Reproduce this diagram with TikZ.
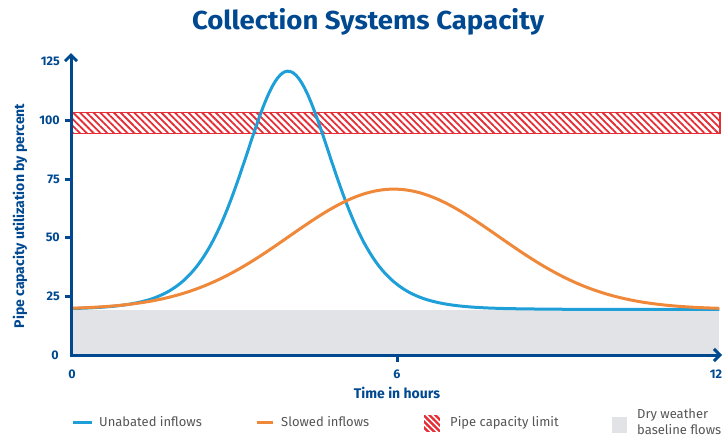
\documentclass[tikz,border=0pt]{standalone}
\usepackage{fontspec}
\setmainfont{Fira Sans}
\usetikzlibrary{arrows.meta,patterns.meta}
\definecolor{dblue}{RGB}{0,73,144}
\definecolor{lblue}{RGB}{30,159,216}
\definecolor{oranj}{RGB}{240,136,58}
\definecolor{capred}{RGB}{229,45,54}
\definecolor{basegray}{RGB}{225,227,230}
\definecolor{legcol}{RGB}{85,85,85}
\begin{document}
\begin{tikzpicture}[x=1pt,y=-1pt,
  declare function={sechsq(\u)=4*exp(-2*abs(\u))/(1+exp(-2*abs(\u)))^2;},
  axisline/.style={dblue,line width=3pt},
  tickl/.style={font=\fontsize{12.5}{12.5}\selectfont\bfseries,text=dblue,inner sep=0pt},
  legtext/.style={font=\fontsize{13}{16.5}\selectfont,text=legcol,inner sep=0pt},
  curve/.style={line width=3pt},
  hatch/.style={pattern={Lines[angle=-45,distance=4.8pt,line width=1.8pt]},pattern color=capred}
]
\useasboundingbox (0,0) rectangle (725,440);

% title
\node[font=\fontsize{26}{26}\selectfont\bfseries,text=dblue,xscale=1.06] (title) at (368,22) {Collection Systems Capacity};

% dry weather baseline
\fill[basegray] (71,309.5) rectangle (719,355);

% pipe capacity band
\draw[capred,line width=1.5pt,hatch] (71,112.5) rectangle (720,133.5);

% curves
\begin{scope}[shift={(71pt,-355pt)},x=54.25pt,y=2.346pt]
  \draw[lblue,curve] plot[domain=0:11.95,samples=220] (\x,{19.5+101.5*sechsq((\x-4)/1.12)});
  \draw[oranj,curve] plot[domain=0:11.95,samples=200] (\x,{19.5+51.2*exp(-((\x-5.95)^2)/(2*1.93*1.93))});
\end{scope}

% axes
\coordinate (O) at (71,355);
\coordinate (ytip) at (71,53);
\coordinate (xtip) at (722,355);
\draw[axisline,line join=miter,{Straight Barb[length=6pt,width=12pt]}-{Straight Barb[length=6pt,width=12pt]}] (ytip) -- (O) -- (xtip);

% ticks
\foreach \yy in {296.35,237.7,179.05,120.4} {
  \draw[axisline] (64.5,\yy) -- (71,\yy);
}
\draw[axisline] (397,355) -- (397,362);

% y tick labels
\node[tickl,anchor=east] (y125) at (60,61.75) {125};
\node[tickl,anchor=east] (y100) at (60,120.4) {100};
\node[tickl,anchor=east] (y75) at (60,179.05) {75};
\node[tickl,anchor=east] (y50) at (60,237.7) {50};
\node[tickl,anchor=east] (y25) at (60,296.35) {25};
\node[tickl,anchor=east] (y0) at (59,355) {0};

% x tick labels
\node[tickl] (x0) at (72,374) {0};
\node[tickl] (x6) at (397,374) {6};
\node[tickl] (x12) at (716,374) {12};

% axis titles
\node[font=\fontsize{14}{14}\selectfont\bfseries,text=dblue] (xlab) at (397,393) {Time in hours};
\node[font=\fontsize{14}{14}\selectfont\bfseries,text=dblue,rotate=90] (ylab) at (20,216) {Pipe capacity utilization by percent};

% legend
\coordinate (l1a) at (73,422); \coordinate (l1b) at (92,422);
\draw[lblue,line width=3pt] (l1a) -- (l1b);
\node[legtext,anchor=base west] (leg1) at (99,426.5) {Unabated inflows};
\coordinate (l2a) at (257,422); \coordinate (l2b) at (273,422);
\draw[oranj,line width=3pt] (l2a) -- (l2b);
\node[legtext,anchor=base west] (leg2) at (281,426.5) {Slowed inflows};
\fill[capred] (424,415) rectangle (440,432);
\fill[pattern={Lines[angle=-45,distance=4.2pt,line width=1.6pt]},pattern color=white] (424,415) rectangle (440,432);
\node[legtext,anchor=base west] (leg3) at (450,426.5) {Pipe capacity limit};
\fill[basegray] (612,417) rectangle (627,433);
\node[legtext,anchor=west,align=left] (leg4) at (637,421.5) {Dry weather\\baseline flows};
\end{tikzpicture}
\end{document}
